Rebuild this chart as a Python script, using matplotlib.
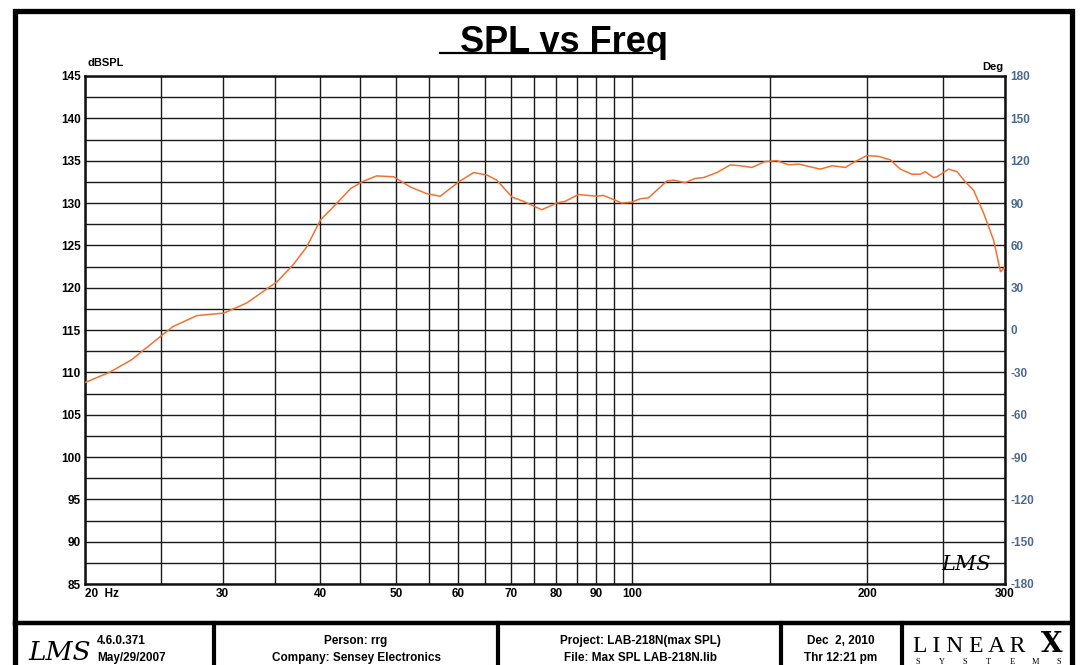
import matplotlib
matplotlib.use("Agg")
import matplotlib.pyplot as plt
from matplotlib.lines import Line2D
from matplotlib.patches import Rectangle
from matplotlib.ticker import NullLocator

plt.rcParams['font.family'] = ['Liberation Sans', 'DejaVu Sans']

# SPL curve (Hz, dBSPL)
freq = [20.0, 21.5, 22.95, 25.1, 25.9, 27.8, 30.1, 32.2, 35.2, 36.9, 38.4, 40.0,
        42.0, 43.7, 45.2, 47.2, 49.6, 52.1, 54.7, 56.9, 60.1, 62.8, 65.3, 67.2,
        70.3, 72.7, 76.7, 80.2, 82.2, 85.5, 90.2, 92.0, 97.1, 100.0, 102.5, 105.0,
        110.9, 113.1, 117.0, 120.5, 123.5, 128.5, 133.6, 137.6, 142.4, 148.1, 153.3,
        158.7, 163.4, 174.2, 180.3, 187.5, 193.1, 199.8, 206.8, 214.0, 220.4, 228.1,
        233.8, 237.2, 243.1, 245.6, 254.1, 260.5, 266.9, 273.5, 281.7, 290.1, 296.0,
        300.0]
spl = [108.8, 110.0, 111.5, 114.4, 115.4, 116.7, 117.0, 118.2, 120.7, 122.7, 124.8, 128.0,
       130.0, 131.7, 132.5, 133.2, 133.1, 131.9, 131.1, 130.8, 132.5, 133.6, 133.3, 132.7,
       130.7, 130.2, 129.2, 130.0, 130.2, 131.0, 130.8, 130.9, 130.0, 130.1, 130.5, 130.6,
       132.6, 132.7, 132.4, 132.9, 133.0, 133.6, 134.5, 134.4, 134.2, 134.9, 135.0,
       134.5, 134.6, 134.0, 134.4, 134.2, 134.9, 135.6, 135.5, 135.1, 134.0, 133.4,
       133.4, 133.7, 133.0, 133.1, 134.0, 133.7, 132.5, 131.5, 128.8, 125.6, 121.9,
       122.4]

grid_freqs = [20, 25, 30, 35, 40, 45, 50, 55, 60, 65, 70, 75, 80, 85, 90, 95, 100,
              150, 200, 250, 300]
xtick_vals = [20, 30, 40, 50, 60, 70, 80, 90, 100, 200, 300]
xtick_labels = ['20  Hz', '30', '40', '50', '60', '70', '80', '90', '100', '200', '300']
ytick_vals = [85, 90, 95, 100, 105, 110, 115, 120, 125, 130, 135, 140, 145]
deg_ticks = [-180, -150, -120, -90, -60, -30, 0, 30, 60, 90, 120, 150, 180]

W, H = 1081, 665
fig = plt.figure(figsize=(W / 100, H / 100), dpi=100)


def fx(x):
    return x / W


def fy(y):
    return 1 - y / H


ax = fig.add_axes([fx(85), fy(584), fx(1005) - fx(85), fy(76) - fy(584)])
ax.set_xscale('log')
ax.set_xlim(20, 300)
ax.set_ylim(85, 145)

# grid: every listed frequency, every 2.5 dB
for f in grid_freqs:
    ax.axvline(f, color='#1a1a1a', lw=1.0, zorder=1)
yy = 85.0
while yy <= 145:
    ax.axhline(yy, color='#1a1a1a', lw=1.0, zorder=1)
    yy += 2.5

ax.plot(freq, spl, color='#f07232', lw=1.1, zorder=3)

ax.xaxis.set_minor_locator(NullLocator())
ax.set_xticks(xtick_vals)
ax.set_xticklabels(xtick_labels, fontsize=8.5, fontweight='bold')
ax.get_xticklabels()[0].set_horizontalalignment('left')
ax.set_yticks(ytick_vals)
ax.set_yticklabels([str(v) for v in ytick_vals], fontsize=8.5, fontweight='bold')
ax.tick_params(axis='both', length=0, pad=3)
for s in ax.spines.values():
    s.set_linewidth(1.8)
    s.set_color('#111111')

ax2 = ax.twinx()
ax2.set_ylim(-180, 180)
ax2.set_yticks(deg_ticks)
ax2.set_yticklabels([str(v) for v in deg_ticks], fontsize=8.5, fontweight='bold',
                    color='#4c6a8c')
ax2.tick_params(axis='y', length=0, pad=4)
for s in ax2.spines.values():
    s.set_visible(False)

fig.text(fx(87), fy(66), 'dBSPL', fontsize=8, fontweight='bold', va='baseline')
fig.text(fx(1003), fy(70), 'Deg', fontsize=8, fontweight='bold', ha='right', va='baseline')

# title with underline
fig.text(fx(460), fy(52), 'SPL vs Freq', fontsize=26, fontweight='bold', va='baseline')
fig.add_artist(Line2D([fx(440), fx(652)], [fy(53), fy(53)], color='black', lw=1.6))

# LMS mark inside the plot
ax.text(0.985, 0.02, 'LMS', transform=ax.transAxes, fontsize=15, style='italic',
        family='DejaVu Serif', ha='right', va='bottom', zorder=4)

# outer frame and footer boxes
fig.add_artist(Rectangle((fx(15), fy(700)), fx(1072) - fx(15), fy(11) - fy(700),
                         fill=False, lw=3.8, edgecolor='black'))
fig.add_artist(Line2D([fx(15), fx(1072)], [fy(623), fy(623)], color='black', lw=3.2))
for xd in [214, 498, 781, 902]:
    fig.add_artist(Line2D([fx(xd), fx(xd)], [fy(623), fy(700)], color='black', lw=3.0))

fig.text(fx(28), fy(660), 'LMS', fontsize=19, style='italic', family='DejaVu Serif')
fig.text(fx(97), fy(644), '4.6.0.371', fontsize=8.5, fontweight='bold')
fig.text(fx(97), fy(661), 'May/29/2007', fontsize=8.5, fontweight='bold')
fig.text(fx(356), fy(644), 'Person: rrg', fontsize=8.5, fontweight='bold', ha='center')
fig.text(fx(356), fy(661), 'Company: Sensey Electronics', fontsize=8.5, fontweight='bold',
         ha='center')
fig.text(fx(640), fy(644), 'Project: LAB-218N(max SPL)', fontsize=8.5, fontweight='bold',
         ha='center')
fig.text(fx(640), fy(661), 'File: Max SPL LAB-218N.lib', fontsize=8.5, fontweight='bold',
         ha='center')
fig.text(fx(841), fy(644), 'Dec  2, 2010', fontsize=8.5, fontweight='bold', ha='center')
fig.text(fx(841), fy(661), 'Thr 12:21 pm', fontsize=8.5, fontweight='bold', ha='center')
fig.text(fx(913), fy(652), 'L I N E A R', fontsize=17, family='Liberation Serif')
fig.text(fx(1052), fy(652), 'X', fontsize=20, fontweight='black', family='DejaVu Serif',
         ha='center')
for i, ch in enumerate('SYSTEMS'):
    fig.text(fx(918 + i * 23.5), fy(664), ch, fontsize=6, family='Liberation Serif',
             ha='center')

fig.savefig('out.png', dpi=100)
